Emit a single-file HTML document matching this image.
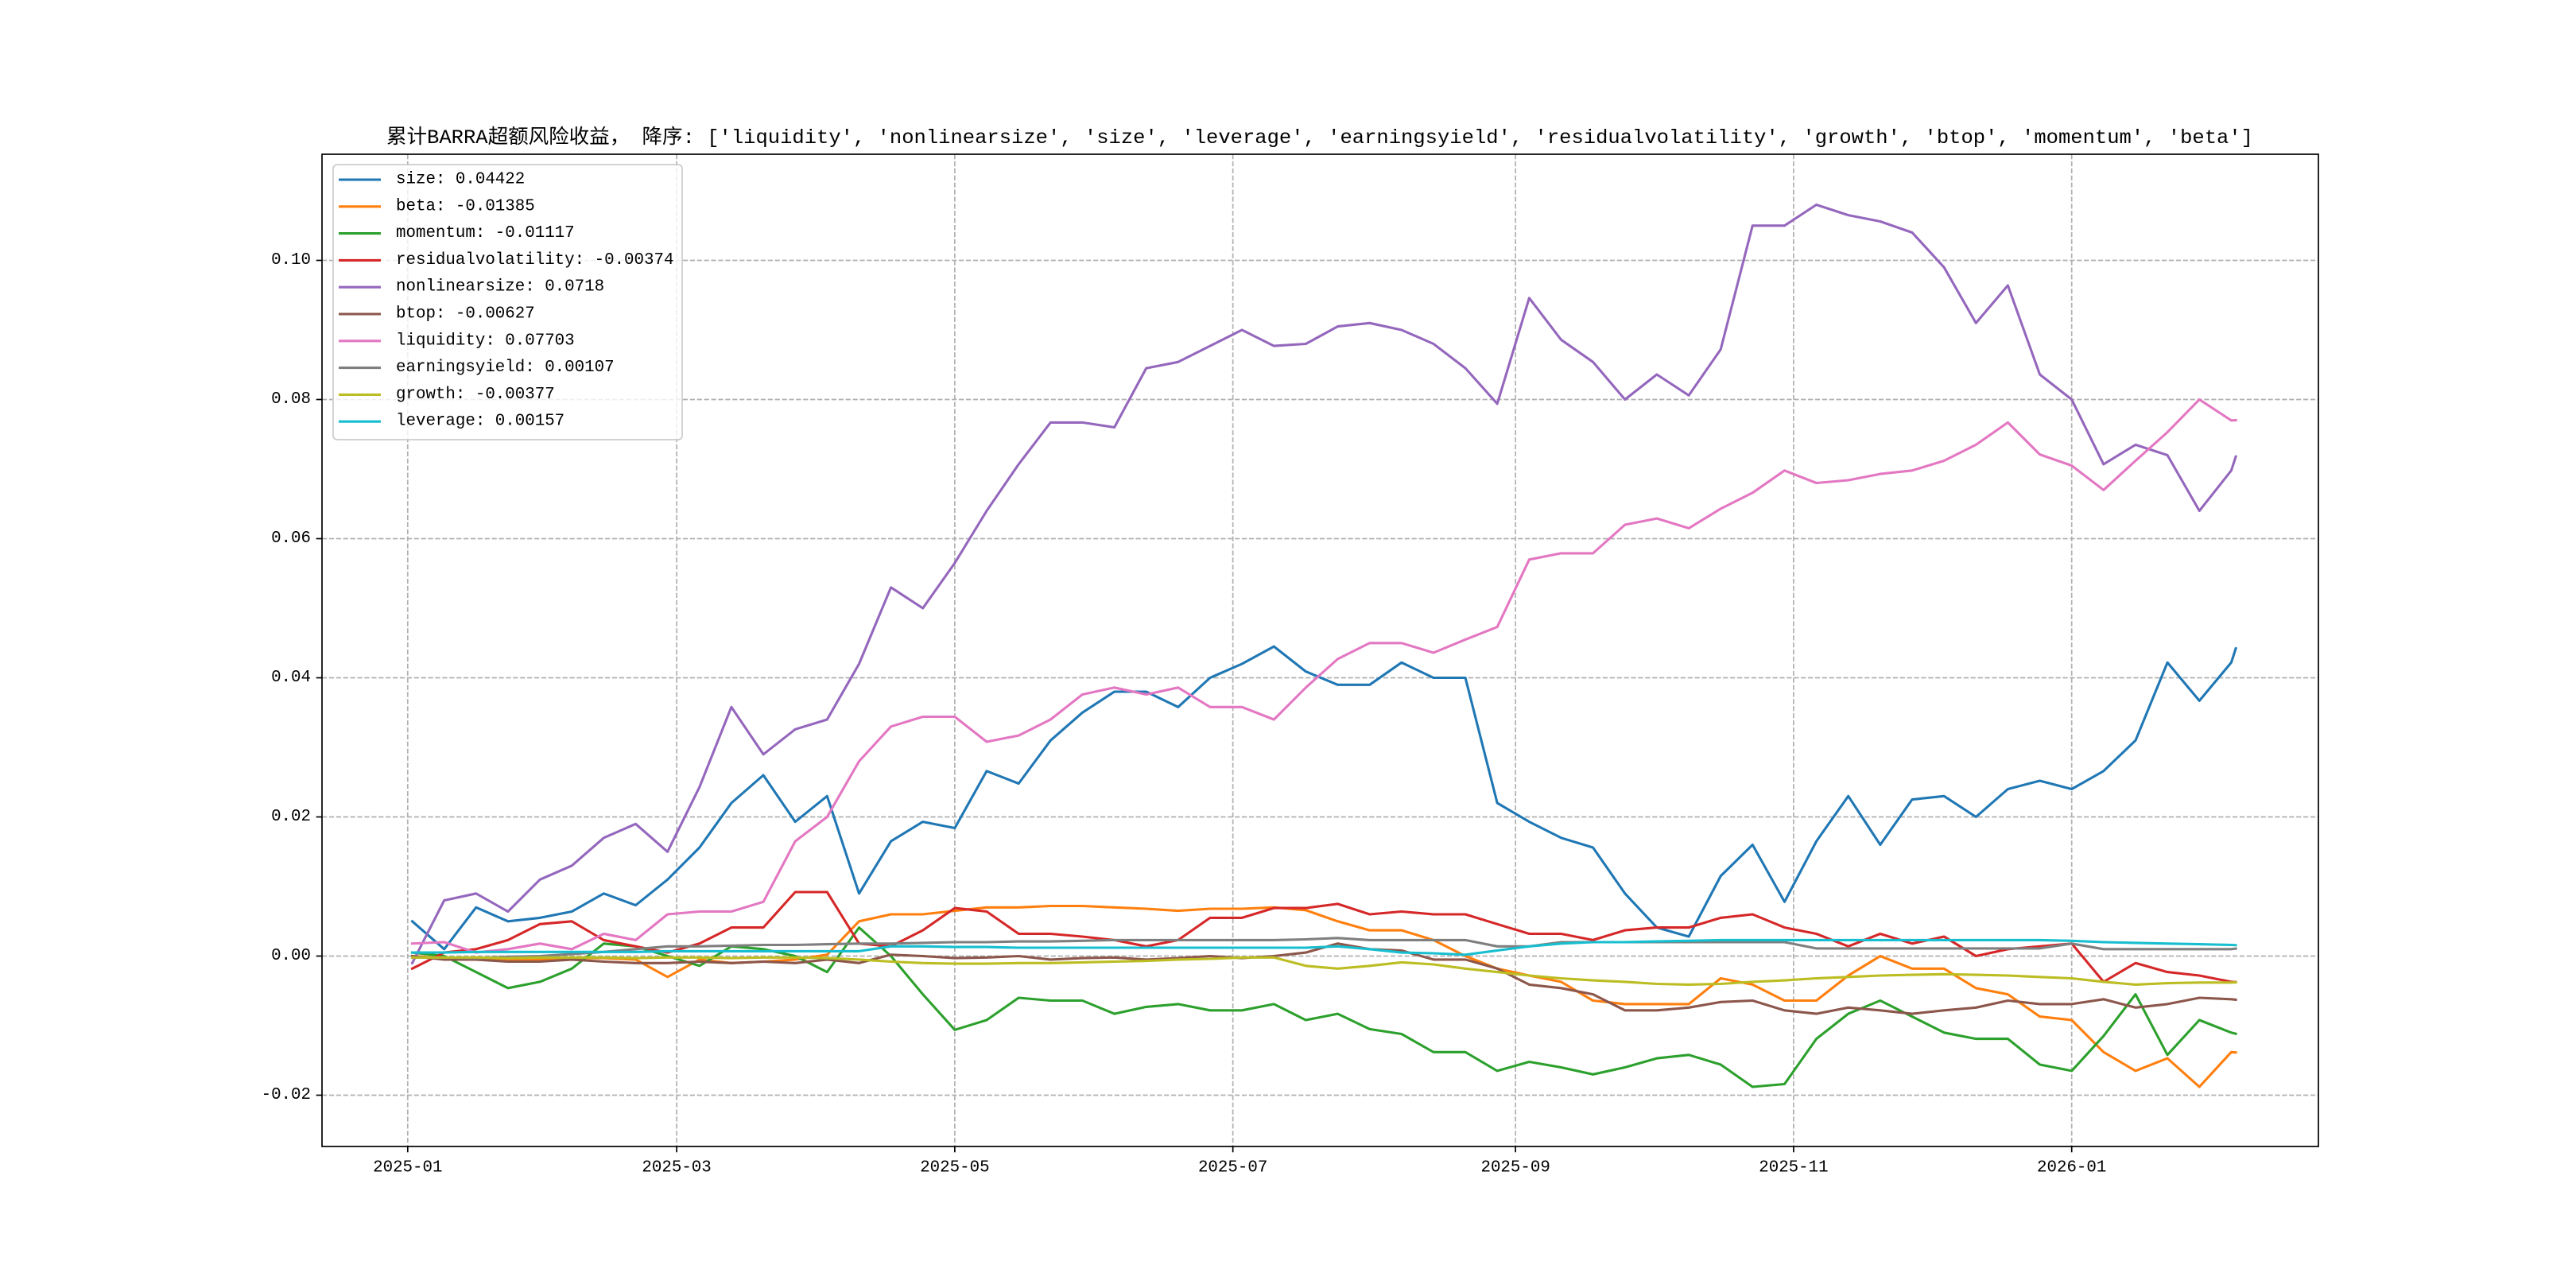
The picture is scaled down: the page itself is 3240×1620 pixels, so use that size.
<!DOCTYPE html>
<html><head><meta charset="utf-8"><title>累计BARRA超额风险收益</title>
<style>
html,body{margin:0;padding:0;background:#fff;}
svg{display:block;}
text{font-family:"Liberation Mono","WenQuanYi Zen Hei","Noto Sans CJK SC",monospace;fill:#000;}
</style></head>
<body>
<svg id="chart" width="3240" height="1620" viewBox="0 0 3240 1620" xmlns="http://www.w3.org/2000/svg">
<rect x="0" y="0" width="3240" height="1620" fill="#fff"/>
<text x="1660" y="180" font-size="25" text-anchor="middle" textLength="2348" lengthAdjust="spacingAndGlyphs">累计BARRA超额风险收益， 降序: ['liquidity', 'nonlinearsize', 'size', 'leverage', 'earningsyield', 'residualvolatility', 'growth', 'btop', 'momentum', 'beta']</text>
<g id="grid"></g>
<g id="series"></g>
<rect x="405" y="194" width="2511" height="1248" fill="none" stroke="#000" stroke-width="1.7"/>
<g id="ticks"></g>
<g id="legend"></g>
</svg>
<script>
const dates = ["2025-01-02","2025-01-09","2025-01-16","2025-01-23","2025-01-30","2025-02-06","2025-02-13","2025-02-20","2025-02-27","2025-03-06","2025-03-13","2025-03-20","2025-03-27","2025-04-03","2025-04-10","2025-04-17","2025-04-24","2025-05-01","2025-05-08","2025-05-15","2025-05-22","2025-05-29","2025-06-05","2025-06-12","2025-06-19","2025-06-26","2025-07-03","2025-07-10","2025-07-17","2025-07-24","2025-07-31","2025-08-07","2025-08-14","2025-08-21","2025-08-28","2025-09-04","2025-09-11","2025-09-18","2025-09-25","2025-10-02","2025-10-09","2025-10-16","2025-10-23","2025-10-30","2025-11-06","2025-11-13","2025-11-20","2025-11-27","2025-12-04","2025-12-11","2025-12-18","2025-12-25","2026-01-01","2026-01-08","2026-01-15","2026-01-22","2026-01-29","2026-02-05","2026-02-06"];
const sizeVals = [0.005,0.001,0.007,0.005,0.0055,0.0064,0.009,0.0073,0.011,0.0156,0.022,0.026,0.0193,0.023,0.009,0.0165,0.0193,0.0184,0.0266,0.0248,0.031,0.035,0.038,0.038,0.0358,0.040,0.042,0.0445,0.0409,0.039,0.039,0.0422,0.040,0.040,0.022,0.0193,0.017,0.0156,0.009,0.0041,0.0028,0.0115,0.016,0.0078,0.0165,0.023,0.016,0.0225,0.023,0.020,0.024,0.0252,0.024,0.0266,0.031,0.0422,0.0367,0.0422,0.04422];
const betaVals = [0,-0.0003,-0.0002,-0.0005,-0.0005,-0.0003,-0.0003,-0.0005,-0.003,-0.0005,-0.001,-0.0008,-0.0005,0.0002,0.005,0.006,0.006,0.0065,0.007,0.007,0.0072,0.0072,0.007,0.0068,0.0065,0.0068,0.0068,0.007,0.0066,0.005,0.0037,0.0037,0.0023,0,-0.0018,-0.0028,-0.0037,-0.0064,-0.0069,-0.0069,-0.0069,-0.0032,-0.0041,-0.0064,-0.0064,-0.0028,0,-0.0018,-0.0018,-0.0046,-0.0055,-0.0087,-0.0092,-0.0138,-0.0165,-0.0147,-0.0188,-0.0138,-0.01385];
const momentumVals = [0.0005,0,-0.0023,-0.0046,-0.0037,-0.0018,0.0018,0.0014,0,-0.0014,0.0014,0.001,0,-0.0023,0.0041,0,-0.0055,-0.0106,-0.0092,-0.006,-0.0064,-0.0064,-0.0083,-0.0073,-0.0069,-0.0078,-0.0078,-0.0069,-0.0092,-0.0083,-0.0105,-0.0112,-0.0138,-0.0138,-0.0165,-0.0152,-0.016,-0.017,-0.016,-0.0147,-0.0142,-0.0156,-0.0188,-0.0184,-0.0119,-0.0083,-0.0064,-0.0087,-0.011,-0.0119,-0.0119,-0.0156,-0.0165,-0.0115,-0.0055,-0.0142,-0.0092,-0.011,-0.01117];
const resvolVals = [-0.0018,0.0005,0.001,0.0023,0.0046,0.005,0.0023,0.0014,0.0005,0.0018,0.0041,0.0041,0.0092,0.0092,0.0018,0.0014,0.0037,0.0069,0.0064,0.0032,0.0032,0.0028,0.0023,0.0014,0.0023,0.0055,0.0055,0.0069,0.0069,0.0075,0.006,0.0064,0.006,0.006,0.0046,0.0032,0.0032,0.0023,0.0037,0.0041,0.0041,0.0055,0.006,0.0041,0.0032,0.0014,0.0032,0.0018,0.0028,0,0.001,0.0014,0.0018,-0.0037,-0.001,-0.0023,-0.0028,-0.0037,-0.00374];
const nlsizeVals = [-0.001,0.008,0.009,0.0064,0.011,0.013,0.017,0.019,0.015,0.0243,0.0358,0.029,0.0326,0.034,0.042,0.053,0.050,0.0565,0.064,0.0707,0.0767,0.0767,0.076,0.0845,0.0854,0.0877,0.090,0.0877,0.088,0.0905,0.091,0.090,0.088,0.0845,0.0794,0.0946,0.0886,0.0854,0.080,0.0836,0.0806,0.0872,0.105,0.105,0.108,0.1065,0.1056,0.104,0.099,0.091,0.0964,0.0836,0.080,0.0707,0.0735,0.072,0.064,0.0698,0.0718];
const btopVals = [0,-0.0005,-0.0005,-0.0008,-0.0008,-0.0005,-0.0008,-0.001,-0.001,-0.0008,-0.001,-0.0008,-0.001,-0.0005,-0.001,0.0002,0,-0.0003,-0.0002,0,-0.0005,-0.0003,-0.0002,-0.0005,-0.0003,0,-0.0003,0,0.0005,0.0018,0.001,0.0008,-0.0005,-0.0005,-0.0018,-0.0041,-0.0046,-0.0055,-0.0078,-0.0078,-0.0074,-0.0066,-0.0064,-0.0078,-0.0083,-0.0074,-0.0078,-0.0083,-0.0078,-0.0074,-0.0064,-0.0069,-0.0069,-0.0062,-0.0074,-0.0069,-0.006,-0.0062,-0.00627];
const liquidityVals = [0.0018,0.002,0.0005,0.001,0.0018,0.001,0.0032,0.0023,0.006,0.0064,0.0064,0.0078,0.0165,0.020,0.028,0.033,0.0344,0.0344,0.0308,0.0317,0.034,0.0376,0.0386,0.0376,0.0386,0.0358,0.0358,0.034,0.0386,0.0427,0.045,0.045,0.0436,0.0455,0.0473,0.057,0.0579,0.0579,0.062,0.0629,0.0615,0.0643,0.0666,0.0698,0.068,0.0684,0.0693,0.0698,0.0712,0.0735,0.0767,0.0721,0.0705,0.067,0.0712,0.0753,0.080,0.077,0.07703];
const eyieldVals = [-0.0002,-0.0002,-0.0003,-0.0001,0,0.0003,0.0006,0.001,0.0014,0.0014,0.0015,0.0016,0.0016,0.0017,0.0018,0.0018,0.0019,0.002,0.002,0.0021,0.0021,0.0022,0.0023,0.0023,0.0023,0.0023,0.0023,0.0023,0.0024,0.0026,0.0023,0.0023,0.0023,0.0023,0.0014,0.0014,0.002,0.002,0.002,0.002,0.002,0.002,0.002,0.002,0.0011,0.0011,0.0011,0.0011,0.0011,0.0011,0.0011,0.0011,0.0018,0.001,0.001,0.001,0.001,0.001,0.00107];
const growthVals = [-0.0002,-0.0002,-0.0002,-0.0003,-0.0002,-0.0002,-0.0002,-0.0003,-0.0002,-0.0002,-0.0003,-0.0002,-0.0002,-0.0003,-0.0005,-0.0008,-0.001,-0.0011,-0.0011,-0.001,-0.001,-0.0009,-0.0008,-0.0007,-0.0005,-0.0004,-0.0002,-0.0002,-0.0014,-0.0018,-0.0014,-0.0009,-0.0012,-0.0018,-0.0023,-0.0028,-0.0032,-0.0035,-0.0037,-0.004,-0.0041,-0.004,-0.0037,-0.0035,-0.0032,-0.003,-0.0028,-0.0027,-0.0026,-0.0027,-0.0028,-0.003,-0.0032,-0.0037,-0.0041,-0.0039,-0.0038,-0.0038,-0.00377];
const leverageVals = [0.0005,0.0005,0.0006,0.0006,0.0006,0.0006,0.0006,0.0006,0.0007,0.0007,0.0007,0.0007,0.0007,0.0007,0.0007,0.0014,0.0014,0.0013,0.0013,0.0012,0.0012,0.0012,0.0012,0.0012,0.0012,0.0012,0.0012,0.0012,0.0012,0.0014,0.001,0.0005,0.0004,0.0002,0.0008,0.0014,0.0018,0.002,0.002,0.0021,0.0022,0.0023,0.0023,0.0023,0.0023,0.0023,0.0023,0.0023,0.0023,0.0023,0.0023,0.0023,0.0022,0.002,0.0019,0.0018,0.0017,0.0016,0.00157];
const seriesNames = ["size","beta","momentum","residualvolatility","nonlinearsize","btop","liquidity","earningsyield","growth","leverage"];
const seriesValues = [sizeVals,betaVals,momentumVals,resvolVals,nlsizeVals,btopVals,liquidityVals,eyieldVals,growthVals,leverageVals];
const legendValues = ["0.04422","-0.01385","-0.01117","-0.00374","0.0718","-0.00627","0.07703","0.00107","-0.00377","0.00157"];
const yTicks = [-0.02,0,0.02,0.04,0.06,0.08,0.10];
const yTickLabels = ["-0.02","0.00","0.02","0.04","0.06","0.08","0.10"];
const xTickDates = ["2025-01-01","2025-03-01","2025-05-01","2025-07-01","2025-09-01","2025-11-01","2026-01-01"];
const xTickLabels = ["2025-01","2025-03","2025-05","2025-07","2025-09","2025-11","2026-01"];

const colors = ["#1f77b4","#ff7f0e","#2ca02c","#d62728","#9467bd","#8c564b","#e377c2","#7f7f7f","#bcbd22","#17becf"];
const NS = "http://www.w3.org/2000/svg";
const AX = {l:405, r:2916, t:194, b:1442};
const day0 = Date.UTC(2025,0,1);
function dayOf(s){const p=s.split("-");return (Date.UTC(+p[0],+p[1]-1,+p[2])-day0)/86400000;}
function xScale(s){return 512.8 + dayOf(s)*5.734;}
function yScale(v){return 1202.5 - v*8750;}
function mk(tag, attrs, parent){const e=document.createElementNS(NS,tag);for(const k in attrs)e.setAttribute(k,attrs[k]);parent.appendChild(e);return e;}

const grid = document.getElementById("grid");
const ticks = document.getElementById("ticks");
xTickDates.forEach((d,i)=>{
  const x = xScale(d);
  const gl = mk("line",{x1:x,x2:x,y1:AX.t,y2:AX.b,stroke:"#b0b0b0","stroke-width":1.7,"stroke-dasharray":"6.2 2.7"},grid);
  
  
  const tk = mk("line",{x1:x,x2:x,y1:AX.b,y2:AX.b+7.3,stroke:"#000","stroke-width":1.7},ticks);
  
  
  const tl = mk("text",{x:x,y:AX.b+27,"font-size":20.8,"text-anchor":"middle","dominant-baseline":"central"},ticks);
  tl.textContent = xTickLabels[i];
  
  
});
yTicks.forEach((v,i)=>{
  const y = yScale(v);
  const gl = mk("line",{x1:AX.l,x2:AX.r,y1:y,y2:y,stroke:"#b0b0b0","stroke-width":1.7,"stroke-dasharray":"6.2 2.7"},grid);
  
  
  const tk = mk("line",{x1:AX.l-7.3,x2:AX.l,y1:y,y2:y,stroke:"#000","stroke-width":1.7},ticks);
  
  
  const tl = mk("text",{x:AX.l-14,y:y,"font-size":20.8,"text-anchor":"end","dominant-baseline":"central"},ticks);
  tl.textContent = yTickLabels[i];
  
  
});

const series = document.getElementById("series");
seriesValues.forEach((vals,si)=>{
  const pts = vals.map((v,i)=>xScale(dates[i]).toFixed(1)+","+yScale(v).toFixed(1)).join(" ");
  const pl = mk("polyline",{points:pts,fill:"none",stroke:colors[si],"stroke-width":3.1,"stroke-linejoin":"round","stroke-linecap":"square"},series);
  
  
});

const legend = document.getElementById("legend");
const box = mk("rect",{x:419,y:207,width:439,height:346,rx:5,fill:"#fff","fill-opacity":0.8,stroke:"#cccccc","stroke-width":1.7},legend);


seriesNames.forEach((n,i)=>{
  const y = 226 + i*33.8;
  const g = mk("g",{},legend);
  
  
  mk("line",{x1:426,x2:479,y1:y,y2:y,stroke:colors[i],"stroke-width":3.1},g);
  const t = mk("text",{x:498,y:y,"font-size":20.8,"dominant-baseline":"central"},g);
  t.textContent = n+": "+legendValues[i];
});
</script>
</body></html>
